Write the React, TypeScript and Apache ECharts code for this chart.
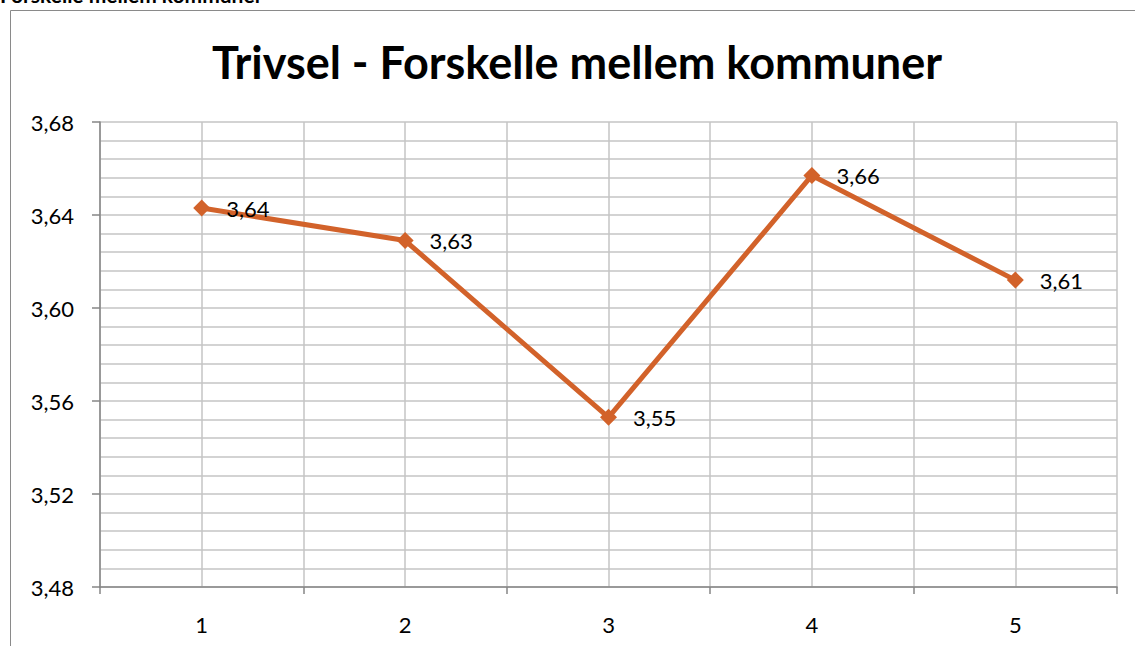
import React, { useEffect, useRef } from "react";
import * as echarts from "echarts";

const titleText = "Trivsel - Forskelle mellem kommuner";
const headerText = "Forskelle mellem kommuner";
const categories = [1, 2, 3, 4, 5];
const values = [3.643, 3.629, 3.553, 3.657, 3.612];
const yMin = 3.48;
const yMax = 3.68;
const yInterval = 0.04;

const FONT = "Lato, 'Open Sans', sans-serif";
const ORANGE = "#D2622A";

export default function App() {
  const ref = useRef<HTMLDivElement>(null);
  useEffect(() => {
    if (!ref.current) return;
    const chart = echarts.init(ref.current, null, { renderer: "svg" });
    chart.setOption({
      animation: false,
      backgroundColor: "#ffffff",
      textStyle: { fontFamily: FONT },
      graphic: [
        {
          type: "rect",
          shape: { x: 10.5, y: 10.5, width: 1200, height: 700 },
          style: { fill: "none", stroke: "#8a8a8a", lineWidth: 1 },
          silent: true,
          z: -10,
        },
        {
          type: "text",
          x: 0,
          y: 5,
          style: {
            text: headerText,
            font: `bold 21px ${FONT}`,
            fill: "#000",
            textVerticalAlign: "bottom",
          },
        },
        {
          type: "text",
          x: 577,
          y: 62,
          style: {
            text: titleText,
            font: `bold 45px ${FONT}`,
            fill: "#000",
            textAlign: "center",
            textVerticalAlign: "middle",
          },
        },
      ],
      grid: { left: 100, right: 18, top: 122, bottom: 59, containLabel: false },
      xAxis: [
        {
          type: "value",
          min: 0.5,
          max: 5.5,
          interval: 0.5,
          axisLine: { show: false },
          axisTick: { show: false },
          splitLine: { show: true, lineStyle: { color: "#c4c4c4", width: 1.5 } },
          axisLabel: {
            margin: 26,
            fontSize: 22,
            color: "#000",
            fontFamily: FONT,
            formatter: (v: number) =>
              categories.indexOf(v) >= 0 ? String(v) : "",
          },
        },
        {
          type: "value",
          position: "bottom",
          min: 0.5,
          max: 5.5,
          interval: 1,
          axisLine: { show: true, onZero: false, lineStyle: { color: "#868686", width: 1.5 } },
          axisTick: { show: true, length: 7, lineStyle: { color: "#868686", width: 1.5 } },
          splitLine: { show: false },
          axisLabel: { show: false },
        },
      ],
      yAxis: {
        type: "value",
        min: yMin,
        max: yMax,
        interval: yInterval,
        axisLine: { show: true, lineStyle: { color: "#868686", width: 1.5 } },
        axisTick: { show: true, length: 8, lineStyle: { color: "#868686", width: 1.5 } },
        splitLine: { show: true, lineStyle: { color: "#c4c4c4", width: 1.5 } },
        minorTick: { show: false, splitNumber: 5 },
        minorSplitLine: { show: true, lineStyle: { color: "#c4c4c4", width: 1.5 } },
        axisLabel: {
          margin: 26,
          fontSize: 22,
          color: "#000",
          fontFamily: FONT,
          formatter: (v: number) => v.toFixed(2).replace(".", ","),
        },
      },
      series: [
        {
          type: "line",
          xAxisIndex: 0,
          data: categories.map((c, i) => [c, values[i]]),
          lineStyle: { color: ORANGE, width: 5 },
          itemStyle: { color: ORANGE },
          symbol: "diamond",
          symbolSize: 17,
          label: {
            show: true,
            position: "right",
            distance: 16,
            fontSize: 22,
            color: "#000",
            fontFamily: FONT,
            formatter: (p: any) => p.value[1].toFixed(2).replace(".", ","),
          },
        },
      ],
    });
    return () => chart.dispose();
  }, []);
  return (
    <div
      ref={ref}
      style={{ position: "fixed", left: 0, top: 0, width: 1135, height: 646 }}
    />
  );
}
